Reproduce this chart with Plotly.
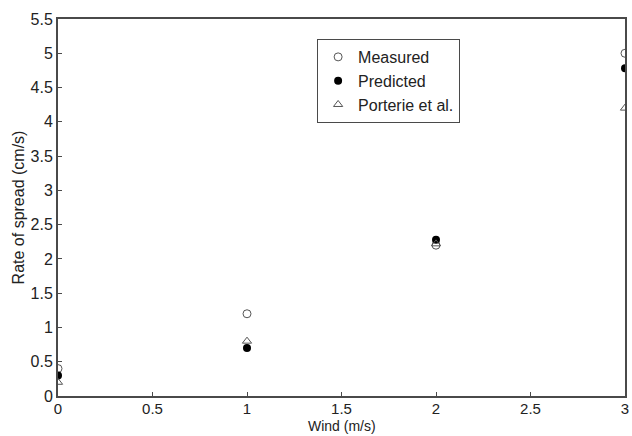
import plotly.graph_objects as go

# Rate of spread vs wind speed
wind = [0, 1, 2, 3]
measured = [0.4, 1.2, 2.2, 5.0]
predicted = [0.3, 0.7, 2.28, 4.78]
porterie = [0.2, 0.8, 2.22, 4.2]

x_ticks = [0, 0.5, 1, 1.5, 2, 2.5, 3]
y_ticks = [0, 0.5, 1, 1.5, 2, 2.5, 3, 3.5, 4, 4.5, 5, 5.5]

axis_col = "#4a4a4a"
font = "Liberation Sans, Arial, sans-serif"

fig = go.Figure()
fig.add_trace(go.Scatter(
    x=wind, y=measured, mode="markers", name="Measured",
    marker=dict(symbol="circle-open", size=8, color="#555555", line=dict(width=1)),
))
fig.add_trace(go.Scatter(
    x=wind, y=predicted, mode="markers", name="Predicted",
    marker=dict(symbol="circle", size=8, color="black"),
))
fig.add_trace(go.Scatter(
    x=wind, y=porterie, mode="markers", name="Porterie et al.",
    marker=dict(symbol="triangle-up-open", size=8, color="#555555", line=dict(width=1)),
))

axis_common = dict(
    showgrid=False, zeroline=False, showline=True, mirror=True,
    linecolor=axis_col, linewidth=2, ticks="inside", ticklen=4,
    tickcolor=axis_col, tickwidth=1,
)

fig.update_layout(
    width=632, height=436,
    margin=dict(l=58, r=3, t=19, b=40),
    paper_bgcolor="white", plot_bgcolor="white",
    font=dict(family=font, color="#222222"),
    xaxis=dict(
        range=[0, 3], tickvals=x_ticks, ticktext=[f"{v:g}" for v in x_ticks],
        tickfont=dict(family=font, size=15, color="#222222"),
        ticklabelstandoff=-2,
        **axis_common,
    ),
    yaxis=dict(
        range=[0, 5.5], tickvals=y_ticks, ticktext=[f"{v:g}" for v in y_ticks],
        tickfont=dict(family=font, size=16, color="#222222"),
        title=dict(text="Rate of spread (cm/s)", font=dict(size=16), standoff=2),
        **axis_common,
    ),
    legend=dict(
        x=0.457, y=0.947, xanchor="left", yanchor="top",
        bordercolor=axis_col, borderwidth=1, bgcolor="white",
        font=dict(family=font, size=16, color="#222222"),
        tracegroupgap=0, itemwidth=30,
    ),
    annotations=[dict(
        text="Wind (m/s)", xref="paper", yref="paper", x=0.5, y=-0.1035,
        xanchor="center", yanchor="bottom", showarrow=False, borderpad=0,
        font=dict(family=font, size=14, color="#222222"),
    )],
)

fig.write_html("out.html")
